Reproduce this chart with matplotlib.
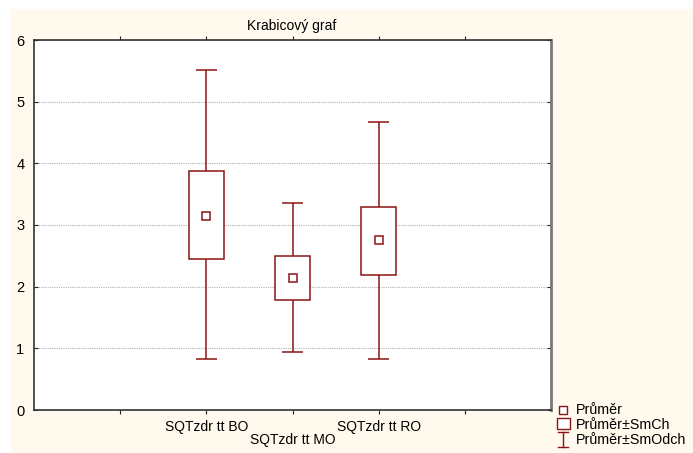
import matplotlib.pyplot as plt
from matplotlib.patches import Rectangle
from matplotlib.lines import Line2D

plt.rcParams['font.family'] = ['Liberation Sans', 'DejaVu Sans']

# krabicovy graf: prumer, prumer +- smerodatna chyba, prumer +- smerodatna odchylka
skupiny = ['SQTzdr tt BO', 'SQTzdr tt MO', 'SQTzdr tt RO']
pozice = [2, 3, 4]
prumer = [3.15, 2.14, 2.75]
smch_dolni = [2.45, 1.79, 2.19]
smch_horni = [3.87, 2.50, 3.30]
smodch_dolni = [0.82, 0.94, 0.83]
smodch_horni = [5.51, 3.35, 4.67]

barva = '#8b1414'
pozadi = '#fff9ee'

fig = plt.figure(figsize=(6.93, 4.53), dpi=100, facecolor='white')
# krémové pozadí grafu
fig.add_artist(Rectangle((11 / 693, 0), 1, 1 - 9 / 453, transform=fig.transFigure,
                         facecolor=pozadi, edgecolor='none', zorder=-10))

ax = fig.add_axes([34 / 693, 43 / 453, 517 / 693, 370 / 453])
ax.set_facecolor('white')
ax.set_xlim(0, 6)
ax.set_ylim(0, 6)

sirka = 0.4
cap = 0.25
for x, m, sl, sh, dl, dh in zip(pozice, prumer, smch_dolni, smch_horni,
                                 smodch_dolni, smodch_horni):
    # vousy
    ax.vlines(x, sh, dh, color=barva, lw=1.1, zorder=3)
    ax.vlines(x, dl, sl, color=barva, lw=1.1, zorder=3)
    ax.hlines([dl, dh], x - cap / 2, x + cap / 2, color=barva, lw=1.1, zorder=3)
    # krabice
    ax.add_patch(Rectangle((x - sirka / 2, sl), sirka, sh - sl, facecolor='white',
                           edgecolor=barva, lw=1.1, zorder=4))
    # prumer
    ax.plot(x, m, marker='s', ms=6, mfc='white', mec=barva, mew=1.1, zorder=5)

ax.set_yticks(range(7))
ax.yaxis.grid(True, color='#b0b0b0', ls=(0, (1, 1)), lw=0.8)
ax.set_axisbelow(True)
ax.set_xticks([1, 2, 3, 4, 5])
ax.set_xticklabels(['', skupiny[0], '\n' + skupiny[1], skupiny[2], ''])
for lab in ax.get_xticklabels():
    lab.set_linespacing(0.95)

ax.tick_params(axis='x', which='both', direction='out', length=3, labelsize=10,
               top=True, pad=4, colors='#222222')
ax.tick_params(axis='y', which='both', direction='in', length=3, labelsize=10.5,
               right=True, pad=7, colors='#222222')
for lab in ax.get_xticklabels() + ax.get_yticklabels():
    lab.set_color('black')

for s in ['left', 'bottom', 'top']:
    ax.spines[s].set_color('#333333')
    ax.spines[s].set_linewidth(1.2)
ax.spines['right'].set_color('#777777')
ax.spines['right'].set_linewidth(2)

fig.text(292 / 693, 1 - 26 / 453, 'Krabicový graf', ha='center', va='center', fontsize=10)

# legenda
def fy(y):
    return 1 - y / 453

def fx(x):
    return x / 693

fig.add_artist(Line2D([fx(563)], [fy(410)], marker='s', ms=5.5, mfc='white',
                      mec=barva, mew=1.0, transform=fig.transFigure))
fig.add_artist(Rectangle((fx(557), fy(429)), 13 / 693, 11 / 453, facecolor='white',
                         edgecolor=barva, lw=1.0, transform=fig.transFigure))
fig.add_artist(Line2D([fx(563), fx(563)], [fy(432), fy(447)], color=barva, lw=1.0,
                      transform=fig.transFigure))
fig.add_artist(Line2D([fx(558), fx(568)], [fy(432), fy(432)], color=barva, lw=1.0,
                      transform=fig.transFigure))
fig.add_artist(Line2D([fx(558), fx(568)], [fy(447), fy(447)], color=barva, lw=1.0,
                      transform=fig.transFigure))
for y, t in zip([410, 425, 440], ['Průměr', 'Průměr±SmCh', 'Průměr±SmOdch']):
    fig.text(fx(576), fy(y), t, ha='left', va='center', fontsize=10.3)

fig.savefig('out.png', dpi=100, facecolor='white')
